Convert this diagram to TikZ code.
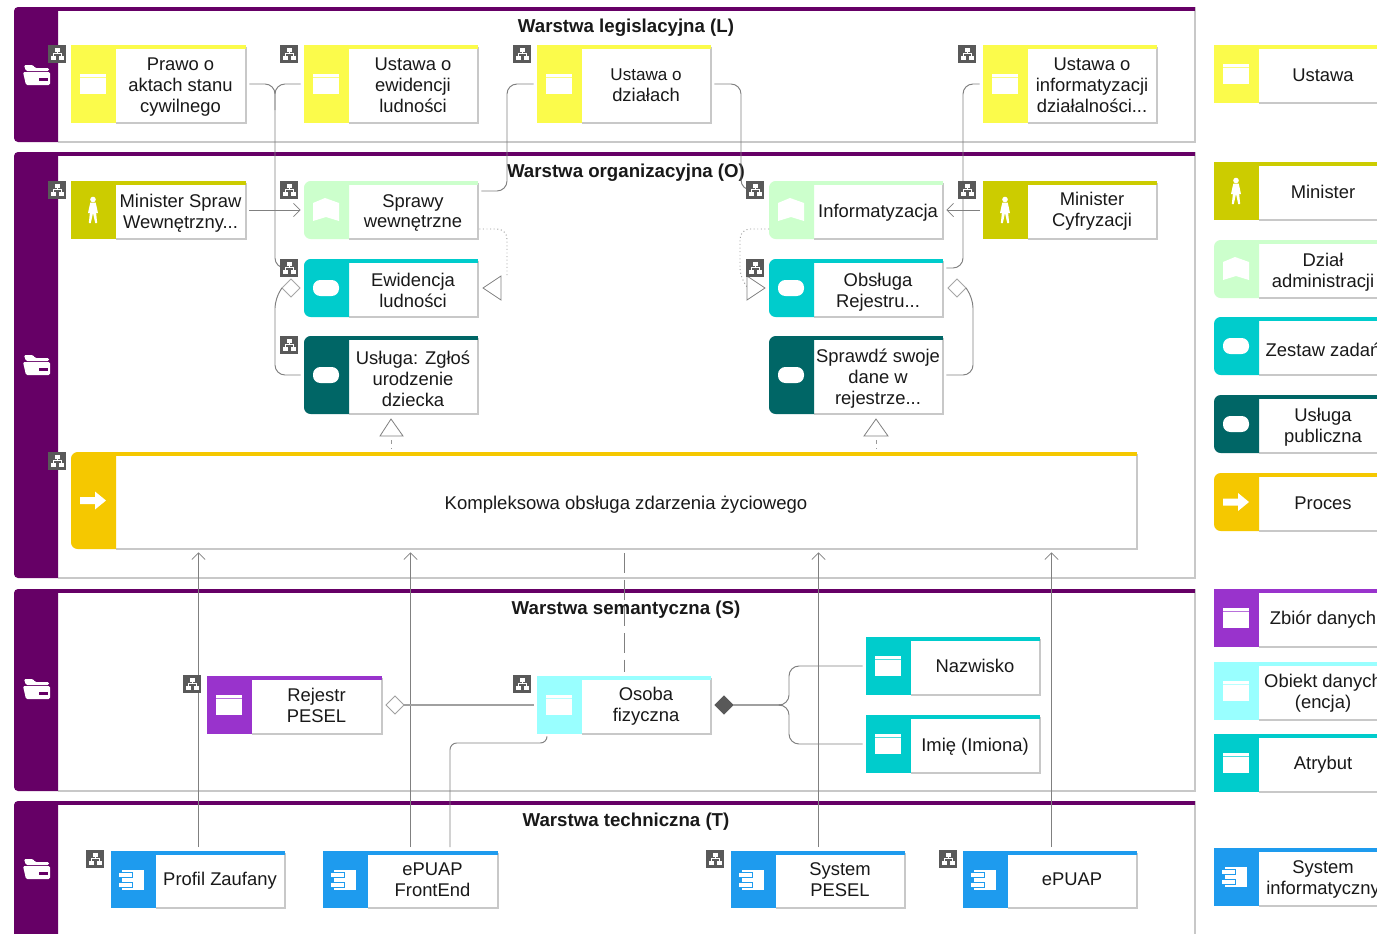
\documentclass[tikz,border=0pt]{standalone}
\usepackage{fontspec}
\setmainfont{Liberation Sans}
\usetikzlibrary{arrows.meta,shapes.geometric}
\definecolor{cPurple}{HTML}{660066}
\definecolor{cLaw}{HTML}{FBFB4B}
\definecolor{cMin}{HTML}{CCCC00}
\definecolor{cDept}{HTML}{CCFFCC}
\definecolor{cTeal}{HTML}{00CCCC}
\definecolor{cDark}{HTML}{006666}
\definecolor{cProc}{HTML}{F5C800}
\definecolor{cSet}{HTML}{9933CC}
\definecolor{cObj}{HTML}{99FFFF}
\definecolor{cSys}{HTML}{1E9BEE}
\definecolor{cLine}{HTML}{808080}
\definecolor{cEdge}{HTML}{C8C8C8}
\definecolor{cIcon}{HTML}{595959}
\tikzset{
  framebox/.style={fill=white,inner sep=0pt,outer sep=0pt},
  lbl/.style={align=center,inner sep=0pt,font=\fontsize{13.8}{15.7}\selectfont,text=black!90},
  ttl/.style={inner sep=0pt,font=\bfseries\fontsize{14}{16}\selectfont,text=black!90},
  conn/.style={draw=cLine,line width=0.72pt,rounded corners=7.5pt},
  soft/.style={draw=cLine!75,line width=0.9pt,rounded corners=7.5pt},
  dotline/.style={draw=cLine!80,line width=0.7pt,dotted,rounded corners=7.5pt},
  dashline/.style={draw=cLine,line width=0.72pt,dash pattern=on 15pt off 5pt},
  barb/.style={-{Straight Barb[length=5pt,width=10pt,line width=0.6pt]}},
  gapstart/.style={shorten <=2.5pt},
  gapend/.style={shorten >=2.5pt},
  dia/.style={diamond,draw=#1,line width=0.7pt,fill=white,minimum width=13.5pt,minimum height=13.5pt,inner sep=0pt,outer sep=0pt},
  tri/.style={draw=cLine,line width=0.6pt,fill=white},
  modelbox/.style={fill=cIcon,minimum size=12.8pt,inner sep=0pt,outer sep=0pt}
}
\newcommand{\ftight}{\fontsize{13.8}{14}\selectfont}
\newcommand{\fwide}{\fontsize{13.8}{16.5}\selectfont}
\newcommand{\fsmaller}{\fontsize{12.8}{13}\selectfont}
\newcommand{\tdy}{0}
\newcommand{\settd}[1]{\gdef\tdy{#1}}
% icons, drawn around the current origin
\newcommand{\icDoc}[1]{\fill[white] (-13,-10) rectangle (13,10);\draw[#1!70!white,line width=0.5pt] (-13,-7) -- (13,-7);}
\newcommand{\icPerson}[1]{\fill[white] (0,-10.5) circle (2.8);
  \fill[white] (-2.7,-7.5) -- (2.7,-7.5) -- (5,3) -- (3.4,3) -- (2.6,-2) -- (4.2,13) -- (2.2,13) -- (0,3) -- (-2.2,13) -- (-4.2,13) -- (-2.6,-2) -- (-3.4,3) -- (-5,3) -- cycle;}
\newcommand{\icBook}[1]{\fill[white] (-13,-7) -- (-1,-12) -- (13,-7) -- (13,11) -- (0,7) -- (-13,11) -- cycle;}
\newcommand{\icPill}[1]{\fill[white,rounded corners=5.5pt] (-13,-8) rectangle (13,8);}
\newcommand{\icArrow}[1]{\fill[white] (-13,-3.5) -- (2,-3.5) -- (2,-9) -- (13,0) -- (2,9) -- (2,3.5) -- (-13,3.5) -- cycle;}
\newcommand{\icComp}[1]{\fill[white] (-11,-10) rectangle (11,10);
  \fill[white,draw=#1,line width=0.5pt] (-15,-7.5) rectangle (-1,-2.5);
  \fill[white,draw=#1,line width=0.5pt] (-15,2.5) rectangle (-1,7.5);}
\newcommand{\icFolder}{\fill[white,rounded corners=1pt] (-13,-10) -- (-4,-10) -- (-2,-7) -- (12,-7) -- (12,-4) -- (-11,-4) -- cycle;
  \fill[white,rounded corners=1pt] (-14,-3) -- (13,-3) -- (13,10) -- (-11,10) -- cycle;
  \fill[cPurple] (2,3) rectangle (11,6);}
% element: name,x0,y0,x1,y1,colour,icon,corner radius,text
\newcommand{\elem}[9]{%
  \node[framebox,minimum width={(#4-#2)*0.75pt},minimum height={(#5-#3)*0.75pt}] (#1) at ({(#2+#4)/2},{(#3+#5)/2}) {};
  \draw[cEdge,line width=1.1pt] (#4,{#3+2}) -- (#4,#5) -- ({#2+45},#5);
  \fill[#6] ({#2+45},#5) [rounded corners=#8pt] -- (#2,#5) -- (#2,#3) [sharp corners] -- ({#2+45},#3) -- cycle;
  \fill[#6] ({#2+40},#3) rectangle (#4,{#3+3.5});
  \begin{scope}[shift={({#2+22},{(#3+#5)/2})}]#7{#6}\end{scope}
  \node[lbl] (#1-t) at ({(#2+44+#4)/2},{(#3+#5)/2+\tdy}) {#9};\gdef\tdy{0}}
% layer: name,y0,y1,title,title y,icon y
\newcommand{\layerbox}[6]{%
  \node[framebox,minimum width={1181*0.75pt},minimum height={(#3-#2)*0.75pt}] (#1) at (604.5,{(#2+#3)/2}) {};
  \draw[cEdge,line width=0.8pt] (1195,#2) -- (1195,#3) -- (58,#3);
  \fill[cPurple] (58,#3) [rounded corners=3pt] -- (14,#3) -- (14,#2) [sharp corners] -- (58,#2) -- cycle;
  \fill[cPurple] (50,#2) rectangle (1195,{#2+3.5});
  \begin{scope}[shift={(37,#6)}]\icFolder\end{scope}
  \node[ttl] (#1-t) at (626,#5) {#4};}
\newcommand{\model}[3]{%
  \node[modelbox] (#1) at (#2,#3) {};
  \begin{scope}[shift={(#2,#3)}]
    \fill[white] (-2.5,-6.5) rectangle (2.5,-2.5);
    \fill[white] (-6.5,1.5) rectangle (-1.5,6);
    \fill[white] (1.5,1.5) rectangle (6.5,6);
    \draw[white,line width=0.5pt] (0,-2.5) -- (0,-0.5) (-4,1.5) -- (-4,-0.5) -- (4,-0.5) -- (4,1.5);
  \end{scope}}
\begin{document}
\begin{tikzpicture}[x=0.75pt,y=-0.75pt]
\useasboundingbox (0,0) rectangle (1377,933);
\clip (0,0) rectangle (1377,933);
\fill[white] (0,0) rectangle (1377,933);
% layers
\layerbox{lL}{7}{142}{Warstwa legislacyjna (L)}{28}{75}
\layerbox{lO}{152}{578}{Warstwa organizacyjna (O)}{173}{365}
\layerbox{lS}{589}{791}{Warstwa semantyczna (S)}{610}{689}
\layerbox{lT}{801}{960}{Warstwa techniczna (T)}{822}{869}
% free ends of connectors
\coordinate (cEwid) at (281,268);
\coordinate (cInf) at (747,190);
\coordinate (triE) at (507,277);
\coordinate (triO) at (748,288);
\coordinate (branch) at (780,705);
\node[dia=cLine!70] (dEwid) at (291,288) {};
\node[dia=cLine!70] (dObs) at (957,288) {};
\node[dia=cEdge!80!black] (dRej) at (395,705) {};
\node[dia=cIcon,fill=cIcon] (dOs) at (724,705) {};
\coordinate (eProf) at (198.5,847);
\coordinate (eFE) at (410.5,847);
\coordinate (eFE2) at (450,847);
\coordinate (eSys) at (818.5,847);
\coordinate (ePu) at (1051.5,847);
\coordinate (pA) at (198.5,549);
\coordinate (pB) at (410.5,549);
\coordinate (pC) at (818.5,549);
\coordinate (pD) at (1051.5,549);
\coordinate (pE) at (624,549);
\coordinate (oTop) at (624,676);
\coordinate (oBot) at (547,737);
\coordinate (uTop) at (391,440);
\coordinate (sTop) at (876,440);
\coordinate (uEnd) at (391,449);
\coordinate (sEnd) at (876,449);
% elements
\settd{3.5}\elem{prawo}{71}{45}{246}{123}{cLaw}{\icDoc}{0}{\fwide Prawo o\\aktach stanu\\cywilnego}
\settd{1.5}\elem{uewid}{304}{45}{478}{123}{cLaw}{\icDoc}{0}{\ftight Ustawa o\\ewidencji\\ludności}
\settd{1.5}\elem{udzial}{537}{45}{711}{123}{cLaw}{\icDoc}{0}{\fsmaller Ustawa o\\działach}
\settd{1.5}\elem{uinf}{983}{45}{1157}{123}{cLaw}{\icDoc}{0}{\ftight Ustawa o\\informatyzacji\\działalności...}
\settd{3}\elem{mspraw}{71}{181}{246}{239}{cMin}{\icPerson}{0}{\ftight Minister Spraw\\Wewnętrzny...}
\settd{3}\elem{sprawy}{304}{181}{478}{239}{cDept}{\icBook}{5}{\ftight Sprawy\\wewnętrzne}
\settd{3}\elem{inform}{769}{181}{943}{239}{cDept}{\icBook}{5}{Informatyzacja}
\settd{1}\elem{mcyf}{983}{181}{1157}{239}{cMin}{\icPerson}{0}{Minister\\Cyfryzacji}
\settd{2}\elem{ewid}{304}{259}{478}{317}{cTeal}{\icPill}{5}{\ftight Ewidencja\\ludności}
\settd{4.5}\elem{obsl}{769}{259}{943}{317}{cTeal}{\icPill}{5}{Obsługa\\Rejestru...}
\settd{3.5}\elem{uslug}{304}{336}{478}{414}{cDark}{\icPill}{5}{Usługa: Zgłoś\\urodzenie\\dziecka}
\settd{3.5}\elem{spraw}{769}{336}{943}{414}{cDark}{\icPill}{5}{Sprawdź swoje\\dane w\\rejestrze...}
\settd{4.5}\elem{kompl}{71}{452}{1137}{549}{cProc}{\icArrow}{5}{\fontsize{13.9}{16}\selectfont Kompleksowa obsługa zdarzenia życiowego}
\elem{rej}{207}{676}{382}{734}{cSet}{\icDoc}{0}{Rejestr\\PESEL}
\settd{1}\elem{osoba}{537}{676}{711}{734}{cObj}{\icDoc}{0}{Osoba\\fizyczna}
\elem{nazw}{866}{637}{1040}{695}{cTeal}{\icDoc}{0}{Nazwisko}
\settd{3}\elem{imie}{866}{715}{1040}{773}{cTeal}{\icDoc}{0}{Imię (Imiona)}
\settd{1}\elem{prof}{111}{851}{285}{908}{cSys}{\icComp}{0}{Profil Zaufany}
\elem{fe}{323}{851}{498}{908}{cSys}{\icComp}{0}{ePUAP\\FrontEnd}
\elem{sys}{731}{851}{905}{908}{cSys}{\icComp}{0}{System\\PESEL}
\elem{epuap}{963}{851}{1137}{908}{cSys}{\icComp}{0}{ePUAP}
% legend
\settd{1}\elem{gU}{1214}{45}{1388}{103}{cLaw}{\icDoc}{0}{Ustawa}
\settd{1}\elem{gM}{1214}{162}{1388}{220}{cMin}{\icPerson}{0}{Minister}
\settd{3}\elem{gD}{1214}{240}{1388}{298}{cDept}{\icBook}{5}{Dział\\administracji}
\settd{3.5}\elem{gZ}{1214}{317}{1388}{375}{cTeal}{\icPill}{5}{Zestaw zadań}
\settd{3.5}\elem{gP}{1214}{395}{1388}{453}{cDark}{\icPill}{5}{Usługa\\publiczna}
\settd{1}\elem{gR}{1214}{473}{1388}{531}{cProc}{\icArrow}{5}{Proces}
\settd{2}\elem{gS}{1214}{589}{1388}{647}{cSet}{\icDoc}{0}{Zbiór danych}
\settd{2}\elem{gO}{1214}{662}{1388}{720}{cObj}{\icDoc}{0}{Obiekt danych\\(encja)}
\settd{2}\elem{gA}{1214}{734}{1388}{792}{cTeal}{\icDoc}{0}{Atrybut}
\settd{2}\elem{gI}{1214}{848}{1388}{906}{cSys}{\icComp}{0}{System\\informatyczny}
% connectors
\draw[conn,gapstart] (prawo.east) -- (275,84) -- (275,268) -- (cEwid);
\draw[conn,gapstart] (uewid.west) -- (275,84) -- (275,110);
\draw[conn,gapstart,gapend] (udzial.west) -- (507,84) -- (507,191) -- (sprawy.east |- 0,191);
\draw[conn,gapstart] (udzial.east) -- (741,84) -- (741,190) -- (cInf);
\draw[conn,gapstart,gapend] (uinf.west) -- (963,84) -- (963,268) -- (obsl.east |- 0,268);
\draw[conn,gapstart,gapend,barb] (mspraw.east) -- (sprawy.west);
\draw[conn,gapstart,gapend,barb] (mcyf.west) -- (inform.east);
\draw[dotline,shorten <=1pt] (sprawy.east |- 0,229) -- (507,229) -- (triE);
\draw[dotline] (inform.west |- 0,229) -- (740,229) -- (740,278) -- (triO);
\draw[conn,gapstart] (uslug.west) -- (275,375) -- (275,298) -- (dEwid.west);
\draw[conn,gapstart] (spraw.east) -- (973,375) -- (973,298) -- (dObs.east);
\draw[tri] (483,288) -- (501,276) -- (501,300) -- cycle;
\draw[tri] (765,288) -- (747,276) -- (747,300) -- cycle;
\draw[tri] (391,419) -- (403,436) -- (380,436) -- cycle;
\draw[tri] (876,419) -- (888,436) -- (864,436) -- cycle;
\draw[draw=cLine!80,line width=0.6pt,dash pattern=on 3pt off 3pt] (uTop) -- (uEnd);
\draw[draw=cLine!80,line width=0.6pt,dash pattern=on 3pt off 3pt] (sTop) -- (sEnd);
\draw[conn,gapend,barb] (eProf) -- (pA);
\draw[conn,gapend,barb] (eFE) -- (pB);
\draw[conn,gapend,barb] (eSys) -- (pC);
\draw[conn,gapend,barb] (ePu) -- (pD);
\draw[dashline,shorten <=3pt,shorten >=3pt] (pE) -- (oTop);
\draw[conn,rounded corners=5pt] (oBot) -- (547,743) -- (450,743) -- (eFE2);
\draw[soft,gapend] (dRej.east) -- (osoba.west);
\draw[soft] (dOs.east) -- (branch);
\draw[conn,gapend] (branch) -- (789,705) -- (789,666) -- (nazw.west);
\draw[conn,gapend] (branch) -- (789,705) -- (789,744) -- (imie.west);
% model icons
\model{m1}{57}{54}\model{m2}{289}{54}\model{m3}{522}{54}\model{m4}{967}{54}
\model{m5}{57}{190}\model{m6}{289}{190}\model{m7}{755}{190}\model{m8}{967}{190}
\model{m9}{289}{268}\model{m10}{755}{268}\model{m11}{289}{345}\model{m12}{57}{461}
\model{m13}{192}{684}\model{m14}{522}{684}\model{m15}{95}{859}\model{m16}{715}{859}\model{m17}{948}{859}
\end{tikzpicture}
\end{document}
